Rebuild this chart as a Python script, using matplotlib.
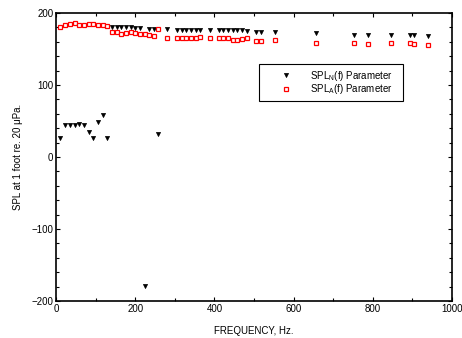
import matplotlib
matplotlib.use('Agg')
import matplotlib.pyplot as plt
from matplotlib.ticker import MultipleLocator

plt.rcParams['font.family'] = ['Liberation Sans', 'DejaVu Sans']
plt.rcParams['mathtext.default'] = 'regular'

# frequencies (Hz) shared by both series
freq = [10, 23, 35, 47, 59, 71, 83, 94, 106, 118, 129,
        141, 153, 165, 177, 189, 200, 212, 224, 235, 247, 258,
        281, 305, 317, 328, 340, 353, 364, 388,
        412, 423, 435, 447, 458, 470, 482,
        504, 517, 552, 657, 752, 787, 845, 893, 904, 940]

spl_n = [27, 44, 45, 45, 46, 45, 35, 27, 48, 58, 27,
         181, 181, 180, 180, 180, 179, 179, -179, 178, 178, 32,
         178, 177, 177, 177, 177, 177, 177, 177,
         176, 176, 176, 176, 176, 176, 175,
         174, 174, 174, 172, 170, 170, 170, 169.5, 169.5, 168.5]

spl_a = [181, 183, 185, 185.5, 184, 184, 184.5, 184.5, 183.5, 183, 182.5,
         173.5, 173, 171, 172, 173, 172, 171, 171, 170, 168.5, 178,
         165, 165, 165, 165, 165, 165, 166, 165,
         165, 165, 165, 163, 163, 164, 165,
         161, 161, 162, 159, 159, 157.5, 159, 158.5, 157, 155.5]

fig = plt.figure(figsize=(4.62, 3.38), dpi=100)
ax = fig.add_axes([0.1212, 0.1095, 0.8571, 0.852])

ax.plot(freq, spl_n, linestyle='none', marker='v', markersize=3.0,
        color='black', markeredgewidth=0.5, label='SPL$_{N}$(f) Parameter')
ax.plot(freq, spl_a, linestyle='none', marker='s', markersize=3.0,
        markerfacecolor='white', markeredgecolor='red', markeredgewidth=0.9,
        label='SPL$_{A}$(f) Parameter')

ax.set_xlim(0, 1000)
ax.set_ylim(-200, 200)
ax.xaxis.set_major_locator(MultipleLocator(200))
ax.xaxis.set_minor_locator(MultipleLocator(100))
ax.yaxis.set_major_locator(MultipleLocator(100))
ax.yaxis.set_minor_locator(MultipleLocator(20))
ax.tick_params(which='both', direction='in', top=True, right=True,
               labelsize=7, width=0.8, pad=2)
ax.tick_params(which='major', length=3)
ax.tick_params(which='minor', length=2)
for s in ax.spines.values():
    s.set_linewidth(1.2)

ax.set_xlabel('FREQUENCY, Hz.', fontsize=7, labelpad=9)
ax.set_ylabel('SPL at 1 foot re. 20 \u03bcPa.', fontsize=7, labelpad=6)

leg = ax.legend(loc='upper left', bbox_to_anchor=(0.5606, 0.8098, 0.311, 0),
                bbox_transform=fig.transFigure, mode='expand', fontsize=7,
                numpoints=1, handlelength=4.6, handletextpad=0.2,
                borderpad=0.45, borderaxespad=0, labelspacing=-0.05,
                fancybox=False, framealpha=1, edgecolor='black')
leg.get_frame().set_linewidth(0.8)

fig.savefig('out.png', dpi=100)
